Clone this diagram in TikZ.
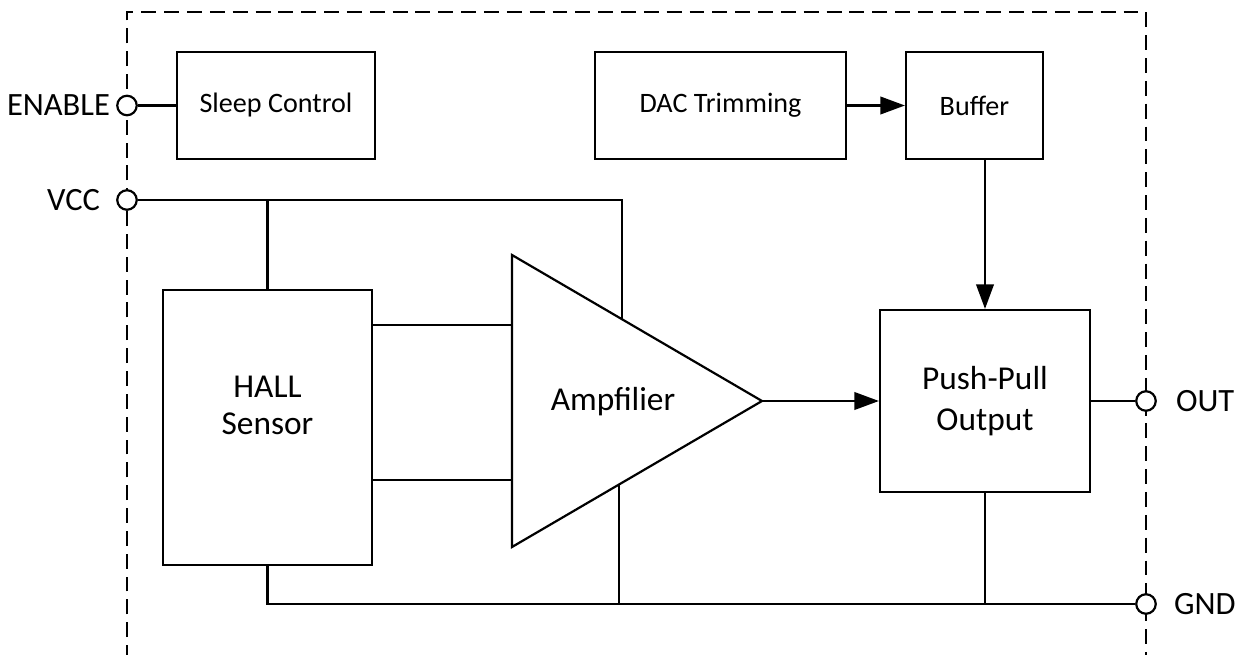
\documentclass[tikz,border=0pt]{standalone}
\usepackage{fontspec}
\setmainfont{Carlito}
\usetikzlibrary{arrows.meta,calc}
\begin{document}
\begin{tikzpicture}[x=0.02cm,y=-0.02cm,
  line width=1.25pt,
  box/.style={draw,line width=1.25pt,fill=white,inner sep=0pt,align=center},
  pin/.style={circle,draw,fill=white,line width=1.25pt,minimum size=0.39cm,inner sep=0pt},
  pinlabel/.style={font=\fontsize{18.5}{20}\selectfont,inner sep=0pt},
  smalltext/.style={font=\fontsize{16}{18}\selectfont},
  bigtext/.style={font=\fontsize{19}{23}\selectfont},
  arr/.style={-{Triangle[length=14pt,width=10pt]}},
  border/.style={line width=1.25pt,dash pattern=on 8.5pt off 4.5pt}]
\useasboundingbox (0,0) rectangle (1245,655);
% dashed chip outline
\draw[border] (127,660) -- (127,12) -- (1146,12) -- (1146,660);
% blocks
\node[box,smalltext,minimum width=3.96cm,minimum height=2.14cm] (sleep) at (276,105.5) {Sleep Control};
\node[box,smalltext,minimum width=5.02cm,minimum height=2.14cm] (dac) at (720.5,105.5) {DAC Trimming};
\node[box,smalltext,minimum width=2.74cm,minimum height=2.14cm] (buffer) at (974.5,105.5) {Buffer};
\node[box,minimum width=4.18cm,minimum height=5.5cm] (hall) at (267.5,427.5) {};
\node[align=center,font=\fontsize{19}{21}\selectfont] (halltext) at (267.5,405) {HALL\\Sensor};
\node[box,bigtext,minimum width=4.2cm,minimum height=3.64cm] (pp) at (985,401) {Push-Pull\\Output};
% amplifier triangle
\coordinate (atop) at (512,255);
\coordinate (abot) at (512,547);
\coordinate (atip) at (762,401);
\draw (atop) -- (atip) -- (abot) -- cycle;
\node[bigtext] (amp) at (613,402) {Ampfilier};
\coordinate (ampT) at (622,320);
\coordinate (ampB) at (619,485);
\coordinate (ampIn1) at (512,325);
\coordinate (ampIn2) at (512,480);
% pins
\coordinate (vccR) at (622,200);
\node[pin] (en) at (127,105.5) {};
\node[pin] (vcc) at (127,200) {};
\node[pin] (out) at (1146,401) {};
\node[pin] (gnd) at (1146,604) {};
\node[pinlabel,anchor=east] (enl) at (111,105.5) {ENABLE};
\node[pinlabel,anchor=east] (vccl) at (101,200) {VCC};
\node[pinlabel,anchor=west] (outl) at (1175,401) {OUT};
\node[pinlabel,anchor=west] (gndl) at (1173,604) {GND};
% connections
\draw (en) -- (sleep.west);
\draw[arr] (dac.east) -- (buffer.west);
\draw (vcc) -- (vccR) -- (ampT);
\draw (hall.north |- vcc) -- (hall.north);
\draw (hall.east |- ampIn1) -- (ampIn1);
\draw (hall.east |- ampIn2) -- (ampIn2);
\draw[arr] (atip) -- (pp.west);
\draw[arr] (pp.north |- buffer.south) -- (pp.north);
\draw (pp.east) -- (out);
\draw (hall.south) -- (hall.south |- gnd) -- (gnd);
\draw (ampB) -- (ampB |- gnd);
\draw (pp.south) -- (pp.south |- gnd);
\end{tikzpicture}
\end{document}
